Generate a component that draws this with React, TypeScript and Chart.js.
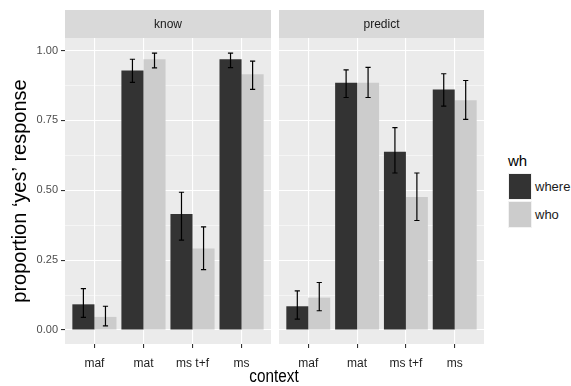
import React, { useEffect, useRef } from "react";
import { Chart, registerables } from "chart.js";

Chart.register(...registerables);

const categories = ["maf", "mat", "ms t+f", "ms"];
const facets = ["know", "predict"];
const seriesNames = ["where", "who"];
const seriesColors = ["#333333", "#cccccc"];

const knowWhere = [0.092, 0.929, 0.415, 0.969];
const knowWhereLo = [0.045, 0.886, 0.322, 0.939];
const knowWhereHi = [0.148, 0.969, 0.493, 0.991];
const knowWho = [0.047, 0.969, 0.292, 0.915];
const knowWhoLo = [0.015, 0.938, 0.216, 0.861];
const knowWhoHi = [0.085, 0.991, 0.369, 0.962];

const predictWhere = [0.085, 0.885, 0.638, 0.861];
const predictWhereLo = [0.039, 0.832, 0.562, 0.801];
const predictWhereHi = [0.14, 0.931, 0.724, 0.917];
const predictWho = [0.116, 0.885, 0.476, 0.822];
const predictWhoLo = [0.069, 0.832, 0.392, 0.754];
const predictWhoHi = [0.17, 0.94, 0.562, 0.893];

const yMajorTicks = [0, 0.25, 0.5, 0.75, 1];
const yMinorTicks = [0.125, 0.375, 0.625, 0.875];

const yTitle = "proportion \u2018yes\u2019 response";
const xTitle = "context";
const legendTitle = "wh";

const sansFont = "'Liberation Sans', Arial, sans-serif";

const isMajor = (v: number) => yMajorTicks.some((m) => Math.abs(m - v) < 1e-9);

const panelPlugin = {
  id: "panelBg",
  beforeDraw(chart: any) {
    const { ctx, chartArea } = chart;
    ctx.save();
    ctx.fillStyle = "#ebebeb";
    ctx.fillRect(chartArea.left, chartArea.top, chartArea.right - chartArea.left, chartArea.bottom - chartArea.top);
    const strip = chart.options.plugins.strip;
    ctx.fillStyle = "#d9d9d9";
    ctx.fillRect(chartArea.left, strip.top, chartArea.right - chartArea.left, chartArea.top - strip.top);
    ctx.fillStyle = "#1a1a1a";
    ctx.font = "12px " + sansFont;
    ctx.textAlign = "center";
    ctx.textBaseline = "middle";
    ctx.fillText(strip.text, (chartArea.left + chartArea.right) / 2, (strip.top + chartArea.top) / 2 + 0.5);
    ctx.restore();
  },
};

const errorBarPlugin = {
  id: "errBars",
  afterDatasetsDraw(chart: any) {
    const { ctx } = chart;
    const yScale = chart.scales.y;
    ctx.save();
    ctx.strokeStyle = "#000000";
    ctx.lineWidth = 1.2;
    chart.data.datasets.forEach((ds: any, i: number) => {
      const meta = chart.getDatasetMeta(i);
      meta.data.forEach((bar: any, j: number) => {
        const x = bar.x;
        const yl = yScale.getPixelForValue(ds.errLo[j]);
        const yh = yScale.getPixelForValue(ds.errHi[j]);
        const hw = 2.6;
        ctx.beginPath();
        ctx.moveTo(x, yl);
        ctx.lineTo(x, yh);
        ctx.moveTo(x - hw, yl);
        ctx.lineTo(x + hw, yl);
        ctx.moveTo(x - hw, yh);
        ctx.lineTo(x + hw, yh);
        ctx.stroke();
      });
    });
    ctx.restore();
  },
};

function buildConfig(facet: string, where: number[], whereLo: number[], whereHi: number[], who: number[], whoLo: number[], whoHi: number[], showY: boolean) {
  const vals = [where, who];
  const los = [whereLo, whoLo];
  const his = [whereHi, whoHi];
  return {
    type: "bar",
    data: {
      datasets: seriesNames.map((name, s) => ({
        label: name,
        data: categories.map((_, i) => ({ x: i + 1, y: vals[s][i] })),
        backgroundColor: seriesColors[s],
        borderWidth: 0,
        barPercentage: 1,
        categoryPercentage: 0.9,
        errLo: los[s],
        errHi: his[s],
      })),
    },
    options: {
      animation: false,
      responsive: false,
      events: [],
      layout: { padding: showY ? { top: 38, left: 0, right: 4, bottom: 0 } : { top: 38, left: 4, right: 4, bottom: 0 } },
      plugins: {
        legend: { display: false },
        tooltip: { enabled: false },
        strip: { text: facet, top: 10 },
      },
      scales: {
        x: {
          type: "linear",
          min: 0.4,
          max: 4.6,
          offset: false,
          afterBuildTicks: (scale: any) => {
            scale.ticks = categories.map((_, i) => ({ value: i + 1 }));
          },
          afterFit: (scale: any) => {
            scale.height = 42;
          },
          ticks: {
            autoSkip: false,
            maxRotation: 0,
            padding: 8,
            color: "#1f1f1f",
            font: { family: sansFont, size: 12 },
            callback: (v: number) => categories[Math.round(v) - 1] ?? "",
          },
          grid: {
            offset: false,
            color: "#ffffff",
            lineWidth: 1.1,
            tickColor: "#333333",
            tickLength: 4,
            tickWidth: 1.1,
          },
          border: { display: false },
        },
        y: {
          type: "linear",
          min: -0.05,
          max: 1.045,
          afterBuildTicks: (scale: any) => {
            scale.ticks = [...yMajorTicks, ...yMinorTicks].sort((a, b) => a - b).map((v) => ({ value: v }));
          },
          afterFit: (scale: any) => {
            scale.width = showY ? 65 : 0;
          },
          title: {
            display: showY,
            text: yTitle,
            color: "#000000",
            font: { family: sansFont, size: 20 },
            padding: { top: 8, bottom: 0 },
          },
          ticks: {
            display: showY,
            padding: 3,
            color: "#4d4d4d",
            font: { family: sansFont, size: 11 },
            callback: (v: number) => (isMajor(v) ? v.toFixed(2) : ""),
          },
          grid: {
            color: "#ffffff",
            lineWidth: (c: any) => (c.tick && isMajor(c.tick.value) ? 1.1 : 0.5),
            drawTicks: showY,
            tickColor: (c: any) => (c.tick && isMajor(c.tick.value) ? "#333333" : "rgba(0,0,0,0)"),
            tickLength: 4,
            tickWidth: 1.1,
          },
          border: { display: false },
        },
      },
    },
    plugins: [panelPlugin, errorBarPlugin],
  };
}

function Panel(props: { left: number; width: number; config: any }) {
  const ref = useRef<HTMLCanvasElement | null>(null);
  useEffect(() => {
    if (!ref.current) return;
    const chart = new Chart(ref.current, props.config);
    return () => chart.destroy();
  }, []);
  return (
    <canvas
      ref={ref}
      width={props.width}
      height={386}
      style={{ position: "absolute", left: props.left, top: 0, width: props.width, height: 386 }}
    />
  );
}

export default function App() {
  const configA = buildConfig(facets[0], knowWhere, knowWhereLo, knowWhereHi, knowWho, knowWhoLo, knowWhoHi, true);
  const configB = buildConfig(facets[1], predictWhere, predictWhereLo, predictWhereHi, predictWho, predictWhoLo, predictWhoHi, false);
  return (
    <div style={{ position: "absolute", left: 0, top: 0, width: 571, height: 386, background: "#ffffff", overflow: "hidden" }}>
      <Panel left={0} width={275} config={configA} />
      <Panel left={275} width={213} config={configB} />
      <div
        style={{
          position: "absolute",
          left: 224,
          width: 100,
          top: 365,
          textAlign: "center",
          fontFamily: sansFont,
          fontSize: 18,
          lineHeight: "22px",
          color: "#000000",
          transform: "scaleX(0.85)",
        }}
      >
        {xTitle}
      </div>
      <div style={{ position: "absolute", left: 508, top: 152, fontFamily: sansFont, fontSize: 15, lineHeight: "18px", color: "#000" }}>
        {legendTitle}
      </div>
      {seriesNames.map((name, s) => (
        <div key={name} style={{ position: "absolute", left: 508, top: 173 + s * 28, height: 27, display: "flex", alignItems: "center" }}>
          <div style={{ width: 24, height: 27, background: seriesColors[s], border: "1px solid #f2f2f2", boxSizing: "border-box" }} />
          <div style={{ marginLeft: 3, fontFamily: sansFont, fontSize: 13, color: "#1a1a1a" }}>{name}</div>
        </div>
      ))}
    </div>
  );
}
